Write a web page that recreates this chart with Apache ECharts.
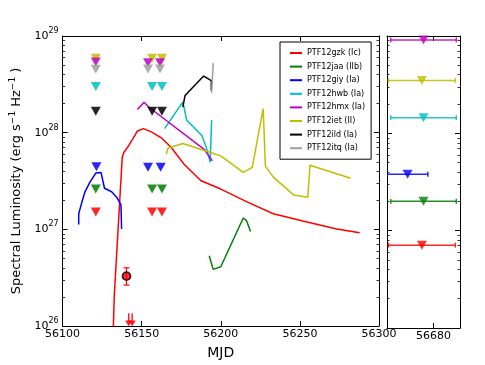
<!DOCTYPE html>
<html>
<head>
<meta charset="utf-8">
<script src="https://cdn.jsdelivr.net/npm/echarts@6/dist/echarts.min.js"></script>
<style>html,body{margin:0;padding:0;background:#fff}#c{width:485px;height:365px}</style>
</head>
<body>
<div id="c"></div>
<script>
// ---------- data ----------
const gzkMJD = [56132.1, 56132.7, 56137.7, 56138.7, 56141.5, 56144.2, 56147.3, 56151.1, 56156.1, 56162.4, 56168.7, 56176.8, 56187.5, 56200.0, 56216.9, 56233.2, 56254.5, 56273.3, 56287.8];
const gzkL   = [1.0e26, 2.09e26, 5.53e27, 6.23e27, 7.23e27, 8.53e27, 1.04e28, 1.10e28, 1.02e28, 8.85e27, 7.01e27, 4.72e27, 3.18e27, 2.61e27, 1.91e27, 1.45e27, 1.19e27, 1.01e27, 9.2e26];
const jaaMJD = [56192.7, 56195.2, 56200.0, 56214.2, 56216.3, 56218.8];
const jaaL   = [5.32e26, 3.85e26, 4.10e26, 1.31e27, 1.23e27, 9.5e26];
const giyMJD = [56110.2, 56110.2, 56112.2, 56114.1, 56117.2, 56121.0, 56124.3, 56126.5, 56131.0, 56134.2, 56136.9, 56137.3];
const giyL   = [1.12e27, 1.45e27, 1.91e27, 2.43e27, 3.06e27, 3.82e27, 3.88e27, 2.66e27, 2.45e27, 2.15e27, 1.79e27, 1.01e27];
const hwbMJD = [56164.5, 56175.9, 56176.8, 56178.4, 56188.1, 56190.6, 56193.3, 56194.2];
const hwbL   = [1.10e28, 2.07e28, 1.82e28, 1.35e28, 9.27e27, 7.23e27, 4.95e27, 1.35e28];
const hmxMJD = [56147.3, 56151.5, 56155.0, 56189.5, 56194.7];
const hmxL   = [1.74e28, 2.06e28, 1.81e28, 6.73e27, 5.11e27];
const ietMJD = [56165.5, 56166.6, 56176.0, 56190.6, 56200.0, 56214.2, 56219.9, 56226.8, 56228.2, 56233.4, 56246.0, 56255.0, 56256.4, 56282.1];
const ietL   = [5.98e27, 6.90e27, 7.71e27, 6.47e27, 5.75e27, 3.88e27, 4.37e27, 1.77e28, 4.51e27, 3.45e27, 2.27e27, 2.15e27, 4.61e27, 3.37e27];
const ildMJD = [56176.0, 56177.4, 56189.2, 56194.0, 56194.0];
const ildL   = [1.84e28, 2.42e28, 3.85e28, 3.45e28, 2.72e28];
const itqMJD = [56195.2, 56194.2];
const itqL   = [5.24e28, 2.58e28];

// upper limits (main panel)
const ietLimMJD = [56121.0, 56156.6, 56162.8]; const ietLimL = [5.9e28, 5.9e28, 5.9e28];
const hmxLimMJD = [56121.0, 56154.0, 56161.6]; const hmxLimL = [5.37e28, 5.3e28, 5.3e28];
const itqLimMJD = [56121.0, 56154.0, 56161.6]; const itqLimL = [4.53e28, 4.55e28, 4.55e28];
const hwbLimMJD = [56121.0, 56156.6, 56162.8]; const hwbLimL = [3.01e28, 3.01e28, 3.01e28];
const ildLimMJD = [56121.0, 56156.6, 56162.8]; const ildLimL = [1.67e28, 1.67e28, 1.67e28];
const giyLimMJD = [56121.4, 56154.0, 56162.0]; const giyLimL = [4.43e27, 4.4e27, 4.4e27];
const jaaLimMJD = [56121.0, 56156.6, 56162.8]; const jaaLimL = [2.61e27, 2.61e27, 2.61e27];
const gzkLimMJD = [56121.0, 56156.6, 56162.8]; const gzkLimL = [1.51e27, 1.51e27, 1.51e27];

// PTF12gzk detection with error bar, and arrows
const gzkDetMJD = [56140.4]; const gzkDetL = [3.28e26]; const gzkDetLo = [2.65e26]; const gzkDetHi = [4.0e26];
const gzkArrowMJD = [56141.8, 56144.0]; const gzkArrowL = [1.16e26, 1.16e26];

// late-time upper limits (right panel): names, MJD, L, MJD half-range
const lateNames = ['hmx', 'iet', 'hwb', 'giy', 'jaa', 'gzk'];
const lateMJD   = [56672.5, 56671.3, 56672.5, 56660.5, 56672.5, 56671.3];
const lateL     = [9.1e28, 3.5e28, 1.45e28, 3.8e27, 2.0e27, 7.1e26];
const lateErr   = [24.7, 25.2, 24.7, 15.3, 24.7, 25.2];

const legendNames = ['PTF12gzk (Ic)', 'PTF12jaa (IIb)', 'PTF12giy (Ia)', 'PTF12hwb (Ia)', 'PTF12hmx (Ia)', 'PTF12iet (II)', 'PTF12ild (Ia)', 'PTF12itq (Ia)'];
const xTicksMain = [56100, 56150, 56200, 56250, 56300];
const xTicksLate = [56680];

// ---------- styling ----------
const FONT = 'DejaVu Sans';
const colors = { gzk: '#ff0000', jaa: '#008000', giy: '#0000ff', hwb: '#00bfbf', hmx: '#bf00bf', iet: '#bfbf00', ild: '#000000', itq: '#a0a0a0' };

const zip = (a, b) => a.map((v, i) => [v, b[i]]);

const lineDefs = [
  ['gzk', gzkMJD, gzkL], ['jaa', jaaMJD, jaaL], ['giy', giyMJD, giyL], ['hwb', hwbMJD, hwbL],
  ['hmx', hmxMJD, hmxL], ['iet', ietMJD, ietL], ['ild', ildMJD, ildL], ['itq', itqMJD, itqL]
];
const limDefs = [
  ['iet', ietLimMJD, ietLimL], ['hmx', hmxLimMJD, hmxLimL], ['itq', itqLimMJD, itqLimL],
  ['hwb', hwbLimMJD, hwbLimL], ['ild', ildLimMJD, ildLimL], ['giy', giyLimMJD, giyLimL],
  ['jaa', jaaLimMJD, jaaLimL], ['gzk', gzkLimMJD, gzkLimL]
];

const series = [];
lineDefs.forEach((d, i) => {
  series.push({
    name: legendNames[i], type: 'line', xAxisIndex: 0, yAxisIndex: 0,
    data: zip(d[1], d[2]), showSymbol: false, symbol: 'none',
    lineStyle: { color: colors[d[0]], width: 1.5 }, itemStyle: { color: colors[d[0]] },
    clip: true, animation: false, z: 2
  });
});
limDefs.forEach(d => {
  series.push({
    name: d[0] + ' limit', type: 'scatter', xAxisIndex: 0, yAxisIndex: 0,
    data: zip(d[1], d[2]), symbol: 'triangle', symbolRotate: 180, symbolSize: [10, 9],
    itemStyle: { color: colors[d[0]], opacity: 0.85 }, animation: false, z: 3
  });
});
// detection error bar
series.push({
  name: 'gzk det err', type: 'custom', xAxisIndex: 0, yAxisIndex: 0,
  data: gzkDetMJD.map((m, i) => [m, gzkDetLo[i], gzkDetHi[i]]),
  encode: { x: 0, y: [1, 2] },
  renderItem: (p, api) => {
    const lo = api.coord([api.value(0), api.value(1)]);
    const hi = api.coord([api.value(0), api.value(2)]);
    const st = { stroke: colors.gzk, lineWidth: 1.2 };
    return { type: 'group', children: [
      { type: 'line', shape: { x1: lo[0], y1: lo[1], x2: hi[0], y2: hi[1] }, style: st },
      { type: 'line', shape: { x1: lo[0] - 3, y1: lo[1], x2: lo[0] + 3, y2: lo[1] }, style: st },
      { type: 'line', shape: { x1: hi[0] - 3, y1: hi[1], x2: hi[0] + 3, y2: hi[1] }, style: st }
    ]};
  }, animation: false, z: 3
});
series.push({
  name: 'gzk det', type: 'scatter', xAxisIndex: 0, yAxisIndex: 0,
  data: zip(gzkDetMJD, gzkDetL), symbol: 'circle', symbolSize: 8,
  itemStyle: { color: '#ff0000', borderColor: '#000', borderWidth: 1.8 }, animation: false, z: 4
});
series.push({
  name: 'gzk arrows', type: 'scatter', xAxisIndex: 0, yAxisIndex: 0,
  data: zip(gzkArrowMJD, gzkArrowL),
  symbol: 'path://M4,0 L6,0 L6,9 L10,9 L5,16 L0,9 L4,9 Z', symbolSize: [7, 13],
  itemStyle: { color: '#ff0000', opacity: 0.9 }, animation: false, z: 4
});
// late-time panel
series.push({
  name: 'late err', type: 'custom', xAxisIndex: 1, yAxisIndex: 1,
  data: lateMJD.map((m, i) => [m, lateL[i], m - lateErr[i], m + lateErr[i], i]),
  encode: { x: [0, 2, 3], y: 1 },
  renderItem: (p, api) => {
    const a = api.coord([api.value(2), api.value(1)]);
    const b = api.coord([api.value(3), api.value(1)]);
    const c = colors[lateNames[api.value(4)]];
    const st = { stroke: c, lineWidth: 1.5, opacity: 0.85 };
    return { type: 'group', children: [
      { type: 'line', shape: { x1: a[0], y1: a[1], x2: b[0], y2: b[1] }, style: st },
      { type: 'line', shape: { x1: a[0], y1: a[1] - 2.5, x2: a[0], y2: a[1] + 2.5 }, style: st },
      { type: 'line', shape: { x1: b[0], y1: b[1] - 2.5, x2: b[0], y2: b[1] + 2.5 }, style: st }
    ]};
  }, clip: true, animation: false, z: 3
});
series.push({
  name: 'late lim', type: 'scatter', xAxisIndex: 1, yAxisIndex: 1,
  data: lateMJD.map((m, i) => ({ value: [m, lateL[i]], itemStyle: { color: colors[lateNames[i]] } })),
  symbol: 'triangle', symbolRotate: 180, symbolSize: [10, 9], animation: false, z: 4
});

// minor tick positions in log units
const minorLog = [];
for (let e = 26; e < 29; e++) for (let k = 2; k <= 9; k++) minorLog.push(Math.log10(k) + e);

const tickColor = '#000';
const axisLineStyle = { show: true, lineStyle: { color: '#000', width: 1 } };
const majorTick = { show: true, inside: true, length: 5, lineStyle: { color: tickColor, width: 1 } };
const minorTickAx = (grid, pos) => ({
  type: 'value', gridIndex: grid, position: pos, min: 26, max: 29,
  axisLine: { show: false }, axisLabel: { show: false }, splitLine: { show: false },
  axisTick: { show: true, inside: true, length: 2.5, customValues: minorLog, lineStyle: { color: tickColor, width: 0.8 } }
});
const logAx = (grid, pos, labels) => ({
  type: 'log', logBase: 10, gridIndex: grid, position: pos, min: 1e26, max: 1e29, splitNumber: 3,
  axisLine: axisLineStyle, axisTick: majorTick, splitLine: { show: false },
  axisLabel: labels ? {
    show: true, margin: 4, color: '#000', fontFamily: FONT,
    formatter: v => '{b|10}{s|' + Math.round(Math.log10(v)) + '}',
    rich: { b: { fontSize: 11, fontFamily: FONT, color: '#000' }, s: { fontSize: 8, fontFamily: FONT, color: '#000', padding: [0, 0, 10, 0] } }
  } : { show: false }
});
const plainNum = v => String(Math.round(v));

const option = {
  backgroundColor: '#fff',
  animation: false,
  grid: [
    { left: 60, top: 36, width: 319, height: 292, containLabel: false },
    { left: 387, top: 36, width: 73, height: 292, containLabel: false }
  ],
  legend: {
    data: legendNames, orient: 'vertical', left: 280, top: 42,
    padding: [6, 6, 6, 10], itemGap: 3.6, itemWidth: 12, itemHeight: 2, icon: 'rect',
    backgroundColor: '#fff', borderColor: '#000', borderWidth: 1, borderRadius: 0,
    textStyle: { fontFamily: FONT, fontSize: 8, color: '#000', lineHeight: 10 },
    selectedMode: false
  },
  xAxis: [
    { type: 'value', gridIndex: 0, position: 'bottom', min: 56100, max: 56300, interval: 50,
      axisLine: axisLineStyle, axisTick: majorTick, splitLine: { show: false },
      axisLabel: { show: true, color: '#000', fontFamily: FONT, fontSize: 11, margin: 3, formatter: plainNum },
      name: 'MJD', nameLocation: 'middle', nameGap: 20,
      nameTextStyle: { fontFamily: FONT, fontSize: 14, color: '#000' } },
    { type: 'value', gridIndex: 1, position: 'bottom', min: 56645, max: 56700,
      axisLine: axisLineStyle, splitLine: { show: false },
      axisTick: Object.assign({}, majorTick, { customValues: xTicksLate }),
      axisLabel: { show: true, color: '#000', fontFamily: FONT, fontSize: 11, margin: 3, customValues: xTicksLate, formatter: plainNum } },
    { type: 'value', gridIndex: 0, position: 'top', min: 56100, max: 56300, interval: 50,
      axisLine: axisLineStyle, axisTick: majorTick, splitLine: { show: false }, axisLabel: { show: false } },
    { type: 'value', gridIndex: 1, position: 'top', min: 56645, max: 56700,
      axisLine: axisLineStyle, splitLine: { show: false },
      axisTick: Object.assign({}, majorTick, { customValues: xTicksLate }), axisLabel: { show: false } }
  ],
  yAxis: [
    Object.assign(logAx(0, 'left', true), {
      name: 'Spectral Luminosity (erg s{s|\u22121} Hz{s|\u22121} )', nameLocation: 'middle', nameGap: 36, nameRotate: 90,
      nameTextStyle: { fontFamily: FONT, fontSize: 13, color: '#000',
        rich: { s: { fontSize: 9, fontFamily: FONT, color: '#000', padding: [0, 0, 9, 0] } } }
    }),
    logAx(1, 'left', false),
    logAx(0, 'right', false),
    logAx(1, 'right', false),
    minorTickAx(0, 'left'), minorTickAx(0, 'right'), minorTickAx(1, 'left'), minorTickAx(1, 'right')
  ],
  series: series
};
const chart = echarts.init(document.getElementById('c'), null, { renderer: 'canvas' });
chart.setOption(option);
</script>
</body>
</html>
